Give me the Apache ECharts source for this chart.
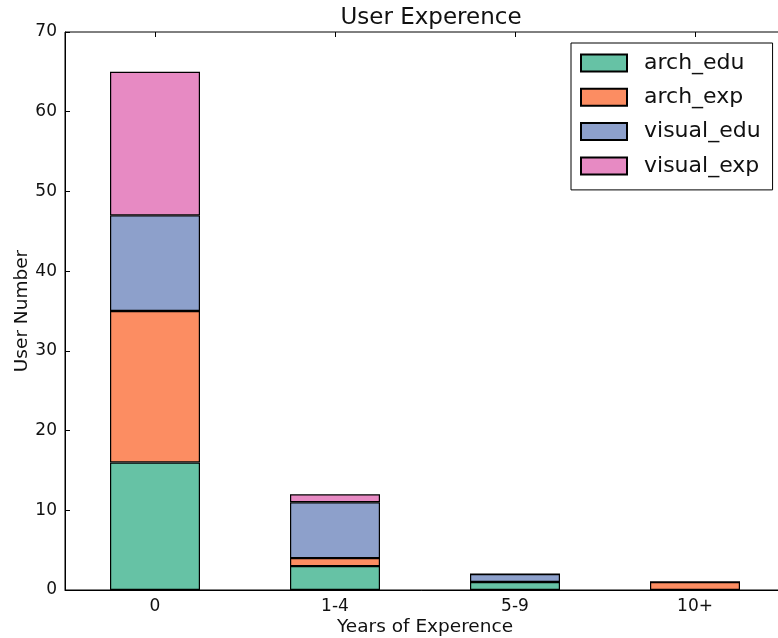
<!DOCTYPE html>
<html><head><meta charset="utf-8">
<script src="https://cdn.jsdelivr.net/npm/echarts@6/dist/echarts.min.js"></script>
<style>html,body{margin:0;padding:0;background:#fff}#c{width:778px;height:638px}</style>
</head><body><div id="c"></div>
<script>
const categories = ['0', '1-4', '5-9', '10+'];
const seriesNames = ['arch_edu', 'arch_exp', 'visual_edu', 'visual_exp'];
const archEdu = [16, 3, 1, 0];
const archExp = [19, 1, 0, 1];
const visualEdu = [12, 7, 1, 0];
const visualExp = [18, 1, 0, 0];
const yTicks = [0, 10, 20, 30, 40, 50, 60, 70];
const colors = ['#66c2a5', '#fc8d62', '#8da0cb', '#e78ac3'];
const values = [archEdu, archExp, visualEdu, visualExp];
const FONT = 'DejaVu Sans';

const chart = echarts.init(document.getElementById('c'));
chart.setOption({
  animation: false,
  textStyle: {fontFamily: FONT},
  title: {text: 'User Experence', left: 426, textAlign: 'center', top: 2,
    textStyle: {fontFamily: FONT, fontSize: 23, fontWeight: 'normal', color: '#111'}},
  grid: {left: 65, width: 720, top: 32, bottom: 48, outerBoundsMode: 'none', containLabel: false,
    show: true, borderColor: '#000', borderWidth: 1, backgroundColor: 'transparent'},
  legend: {
    orient: 'vertical', left: 571, top: 43, padding: [9, 12, 13, 9], itemGap: 12.3,
    itemWidth: 46, itemHeight: 17, borderColor: '#000', borderWidth: 1,
    icon: 'rect',
    data: seriesNames,
    textStyle: {fontFamily: FONT, fontSize: 22, color: '#111', padding: [0, 0, 0, 12]}
  },
  xAxis: [{
    type: 'category', data: categories, position: 'bottom',
    axisLine: {show: true, lineStyle: {color: '#000'}},
    axisTick: {show: true, inside: true, alignWithLabel: true, length: 5, lineStyle: {color: '#000'}},
    axisLabel: {fontFamily: FONT, fontSize: 17, color: '#111', margin: 8},
    name: 'Years of Experence', nameLocation: 'middle', nameGap: 28, nameMoveOverlap: false,
    nameTextStyle: {fontFamily: FONT, fontSize: 18.5, color: '#111'}
  }, {
    type: 'category', data: categories, position: 'top',
    axisLine: {show: false},
    axisTick: {show: true, inside: true, alignWithLabel: true, length: 5, lineStyle: {color: '#000'}},
    axisLabel: {show: false}
  }],
  yAxis: {
    type: 'value', min: yTicks[0], max: yTicks[yTicks.length - 1], interval: 10,
    axisLine: {show: true, lineStyle: {color: '#000'}},
    axisTick: {show: true, inside: true, length: 5, lineStyle: {color: '#000'}},
    splitLine: {show: false},
    axisLabel: {fontFamily: FONT, fontSize: 17, color: '#111', margin: 8},
    name: 'User Number', nameLocation: 'middle', nameGap: 33, nameMoveOverlap: false,
    nameTextStyle: {fontFamily: FONT, fontSize: 18.5, color: '#111'}
  },
  series: seriesNames.map((n, i) => ({
    name: n, type: 'bar', stack: 'total', barWidth: '50%', xAxisIndex: 0,
    data: values[i],
    itemStyle: {color: colors[i], borderColor: '#000', borderWidth: 1.2}
  }))
});
</script></body></html>
